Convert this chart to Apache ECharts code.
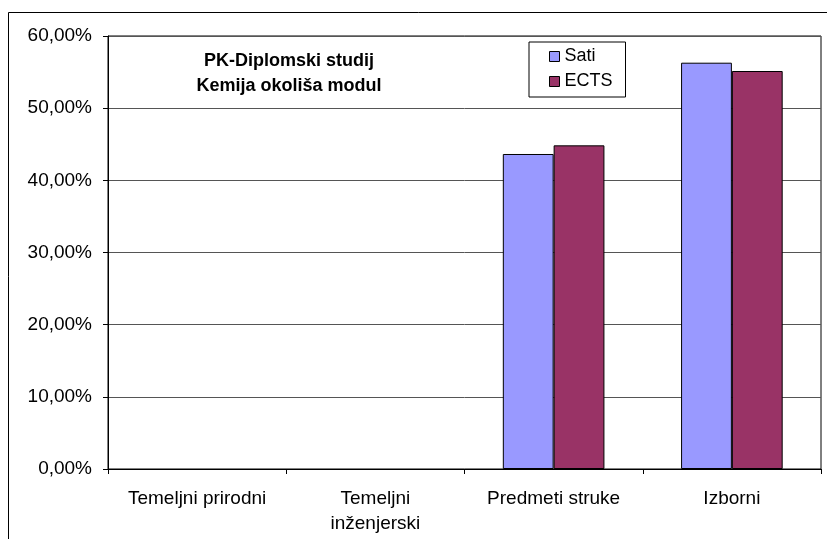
<!DOCTYPE html>
<html>
<head>
<meta charset="utf-8">
<script src="https://cdn.jsdelivr.net/npm/echarts@6/dist/echarts.min.js"></script>
<style>
  html, body { margin: 0; padding: 0; background: #fff; }
  #chart { width: 827px; height: 539px; }
</style>
</head>
<body>
<div id="chart"></div>
<script>
// podaci
const categories = ['Temeljni prirodni', 'Temeljni\ninženjerski', 'Predmeti struke', 'Izborni'];
const satiValues = [0, 0, 43.65, 56.3];
const ectsValues = [0, 0, 44.85, 55.15];
const seriesNames = ['Sati', 'ECTS'];
const titleLines = ['PK-Diplomski studij', 'Kemija okoliša modul'];

const font = 'Liberation Sans, Arial, sans-serif';
const chart = echarts.init(document.getElementById('chart'));

// stupci s nulom bez obruba (da ne podebljaju os)
function barData(values) {
  return values.map(v => v === 0 ? { value: v, itemStyle: { borderWidth: 0 } } : v);
}

const option = {
  animation: false,
  backgroundColor: '#fff',
  graphic: [
    {
      // vanjski okvir
      type: 'rect',
      shape: { x: 8.5, y: 12.5, width: 900, height: 600 },
      style: { fill: 'none', stroke: '#000', lineWidth: 1 },
      silent: true
    },
    {
      type: 'text',
      x: 289,
      y: 48.5,
      style: {
        text: titleLines.join('\n'),
        font: 'bold 18px ' + font,
        lineHeight: 25,
        align: 'center',
        verticalAlign: 'top',
        fill: '#000'
      }
    }
  ],
  grid: {
    left: 108,
    right: 6,
    top: 36,
    bottom: 70,
    show: true,
    borderColor: '#000',
    borderWidth: 1,
    backgroundColor: '#fff'
  },
  legend: {
    data: seriesNames,
    orient: 'vertical',
    left: 529,
    top: 42,
    padding: [5, 13, 6, 20],
    itemGap: 6,
    itemWidth: 10,
    itemHeight: 10,
    icon: 'rect',
    borderColor: '#000',
    borderWidth: 1,
    backgroundColor: '#fff',
    itemStyle: { borderColor: '#000', borderWidth: 1 },
    textStyle: { fontFamily: font, fontSize: 18, lineHeight: 19, color: '#000' }
  },
  xAxis: {
    type: 'category',
    data: categories,
    axisLine: { lineStyle: { color: '#000', width: 1 } },
    axisTick: { show: true, length: 5, lineStyle: { color: '#000' } },
    axisLabel: {
      interval: 0,
      margin: 17,
      fontFamily: font,
      fontSize: 19,
      lineHeight: 25,
      color: '#000'
    }
  },
  yAxis: {
    type: 'value',
    min: 0,
    max: 60,
    interval: 10,
    axisLine: { show: true, lineStyle: { color: '#000', width: 1 } },
    axisTick: { show: true, length: 5, lineStyle: { color: '#000' } },
    axisLabel: {
      margin: 16,
      fontFamily: font,
      fontSize: 19,
      color: '#000',
      formatter: v => v.toFixed(2).replace('.', ',') + '%'
    },
    splitLine: { show: true, lineStyle: { color: '#555', width: 1 } }
  },
  series: [
    {
      name: seriesNames[0],
      type: 'bar',
      data: barData(satiValues),
      barGap: '0%',
      barCategoryGap: '43%',
      itemStyle: { color: '#9999FF', borderColor: '#000', borderWidth: 1 }
    },
    {
      name: seriesNames[1],
      type: 'bar',
      data: barData(ectsValues),
      itemStyle: { color: '#993366', borderColor: '#000', borderWidth: 1 }
    }
  ]
};

chart.setOption(option);
</script>
</body>
</html>
